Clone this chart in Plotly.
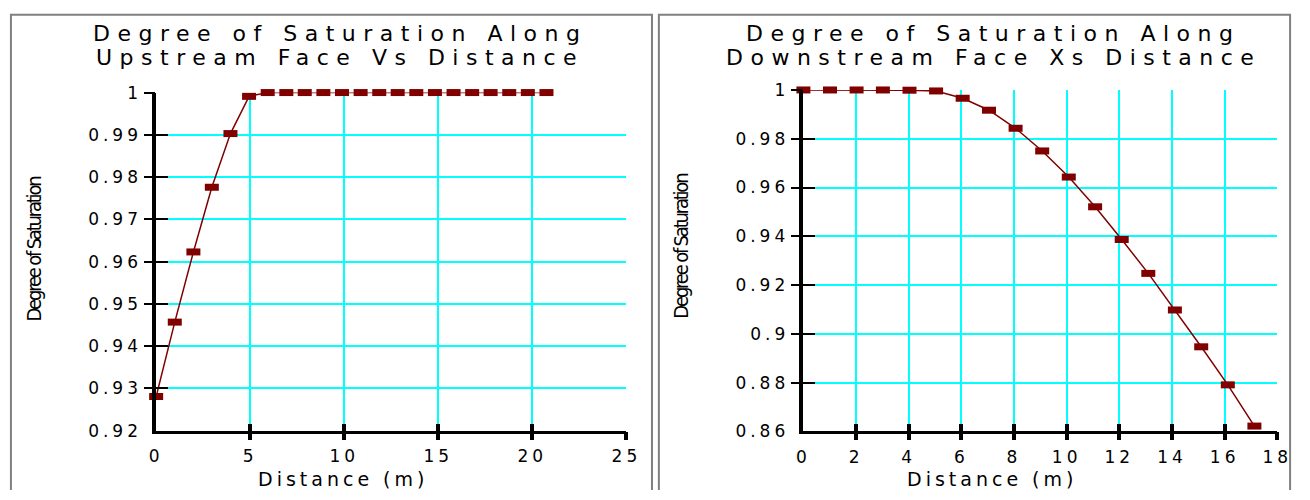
import plotly.graph_objects as go

# ---------------- data ----------------
up_distance = [0, 0.99, 1.98, 2.96, 3.95, 4.94, 5.93, 6.92, 7.9, 8.89, 9.88,
               10.87, 11.86, 12.84, 13.83, 14.82, 15.81, 16.8, 17.78, 18.77,
               19.76, 20.75]
up_saturation = [0.9281, 0.9457, 0.9623, 0.9776, 0.9903, 0.9991, 1.0, 1.0,
                 1.0, 1.0, 1.0, 1.0, 1.0, 1.0, 1.0, 1.0, 1.0, 1.0, 1.0, 1.0,
                 1.0, 1.0]

down_distance = [0, 1.01, 2.02, 3.02, 4.03, 5.04, 6.05, 7.05, 8.06, 9.07,
                 10.08, 11.08, 12.09, 13.1, 14.11, 15.11, 16.12, 17.13]
down_saturation = [1.0, 1.0, 1.0, 1.0, 0.9999, 0.9996, 0.9966, 0.9917, 0.9843,
                   0.9750, 0.9643, 0.9521, 0.9387, 0.9248, 0.9098, 0.8947,
                   0.8791, 0.8622]

up_x_ticks = [0, 5, 10, 15, 20, 25]
up_y_ticks = [0.92, 0.93, 0.94, 0.95, 0.96, 0.97, 0.98, 0.99, 1.0]
up_y_labels = ["0.92", "0.93", "0.94", "0.95", "0.96", "0.97", "0.98", "0.99", "1"]
down_x_ticks = [0, 2, 4, 6, 8, 10, 12, 14, 16, 18]
down_y_ticks = [0.86, 0.88, 0.90, 0.92, 0.94, 0.96, 0.98, 1.0]
down_y_labels = ["0.86", "0.88", "0.9", "0.92", "0.94", "0.96", "0.98", "1"]

title_up = ["Degree of Saturation Along", "Upstream Face Vs Distance"]
title_down = ["Degree of Saturation Along", "Downstream Face Xs Distance"]
x_title = "Distance (m)"
y_title = "Degree of Saturation"

# ---------------- style ----------------
W, H = 1310, 500
FONT = "DejaVu Sans"
COND = "DejaVu Sans Condensed, Liberation Sans"
MAROON = "#800000"
CYAN = "#00FFFF"


def sp(text, ls):
    return '<span style="letter-spacing:%spx">%s</span>' % (ls, text)


def px_x(v):
    return v / W


def px_y(v):
    return (H - v) / H


tick_font = dict(family=FONT, size=17, color="black")

fig = go.Figure()

marker = dict(symbol="line-ew", size=10, color=MAROON,
              line=dict(width=7, color=MAROON))

fig.add_trace(go.Scatter(x=up_distance, y=up_saturation, mode="lines+markers",
                         line=dict(color=MAROON, width=1.5), marker=marker,
                         cliponaxis=False, xaxis="x", yaxis="y",
                         showlegend=False))
fig.add_trace(go.Scatter(x=down_distance, y=down_saturation, mode="lines+markers",
                         line=dict(color=MAROON, width=1.5), marker=marker,
                         cliponaxis=False, xaxis="x2", yaxis="y2",
                         showlegend=False))

# empty helper traces so that the tick-mark overlay axes get drawn
for xa, ya in [("x3", "y3"), ("x4", "y4"), ("x5", "y5"), ("x6", "y6")]:
    fig.add_trace(go.Scatter(x=[], y=[], mode="markers", xaxis=xa, yaxis=ya,
                             showlegend=False, hoverinfo="skip"))

left_dom_x = [px_x(151.7), px_x(630)]
left_dom_y = [px_y(438.3), px_y(86)]
right_dom_x = [px_x(810), px_x(1292)]
right_dom_y = [px_y(439), px_y(83.3)]


def main_x(domain, rng, vals, anchor):
    return dict(domain=domain, range=rng, anchor=anchor,
                tickmode="array", tickvals=vals,
                ticktext=[sp(str(v), 4) for v in vals],
                ticks="outside", ticklen=8, tickcolor="rgba(0,0,0,0)",
                tickfont=tick_font,
                showline=True, linecolor="black", linewidth=3,
                showgrid=True, gridcolor=CYAN, gridwidth=1.5,
                zeroline=False)


def main_y(domain, rng, vals, labels, anchor):
    return dict(domain=domain, range=rng, anchor=anchor,
                tickmode="array", tickvals=vals,
                ticktext=[sp(t, 4) for t in labels],
                ticks="outside", ticklen=7, tickcolor="rgba(0,0,0,0)",
                tickfont=tick_font,
                showline=True, linecolor="black", linewidth=3.5,
                showgrid=True, gridcolor=CYAN, gridwidth=1.5,
                zeroline=False)


def tick_axis(over, rng, vals, anchor, kind, length, width):
    return dict(overlaying=over, range=rng, anchor=anchor,
                tickmode="array", tickvals=vals, ticks=kind, ticklen=length,
                tickwidth=width, tickcolor="black", showticklabels=False,
                showgrid=False, showline=False, zeroline=False)


fig.update_layout(
    width=W, height=H,
    margin=dict(l=0, r=0, t=0, b=0),
    paper_bgcolor="white", plot_bgcolor="white",
    showlegend=False,
    xaxis=main_x(left_dom_x, [0, 25], up_x_ticks, "y"),
    yaxis=main_y(left_dom_y, [0.92, 1.0], up_y_ticks, up_y_labels, "x"),
    xaxis2=main_x(right_dom_x, [0, 18], down_x_ticks, "y2"),
    yaxis2=main_y(right_dom_y, [0.86, 1.0], down_y_ticks, down_y_labels, "x2"),
    # crossing tick marks (inside + outside parts)
    xaxis3=tick_axis("x", [0, 25], up_x_ticks[1:], "y3", "inside", 7, 3.5),
    yaxis3=tick_axis("y", [0.92, 1.0], up_y_ticks[1:], "x3", "inside", 12, 2),
    xaxis4=tick_axis("x", [0, 25], up_x_ticks[1:], "y4", "outside", 8, 3.5),
    yaxis4=tick_axis("y", [0.92, 1.0], up_y_ticks[1:], "x4", "outside", 11, 2),
    xaxis5=tick_axis("x2", [0, 18], down_x_ticks[1:], "y5", "inside", 7, 3.5),
    yaxis5=tick_axis("y2", [0.86, 1.0], down_y_ticks[1:], "x5", "inside", 12, 2),
    xaxis6=tick_axis("x2", [0, 18], down_x_ticks[1:], "y6", "outside", 8, 3.5),
    yaxis6=tick_axis("y2", [0.86, 1.0], down_y_ticks[1:], "x6", "outside", 11, 2),
)

# panel frames (left, top and right sides)
for x0, x1 in [(4, 656), (663, 1305)]:
    fig.add_shape(type="path", xref="paper", yref="paper",
                  path="M %f,0 L %f,%f L %f,%f L %f,0" % (
                      px_x(x0), px_x(x0), px_y(5), px_x(x1), px_y(5), px_x(x1)),
                  line=dict(color="#808080", width=2), layer="below")

# titles
title_font = dict(family=FONT, size=22, color="black")
for cx, lines in [(335, title_up), (999, title_down)]:
    for cy, line in zip([24, 50], lines):
        fig.add_annotation(text=sp(line, 7.5), xref="paper", yref="paper",
                           x=px_x(cx + 4), y=px_y(cy), xanchor="center",
                           yanchor="middle", showarrow=False, font=title_font)

# axis titles
xt_font = dict(family=FONT, size=19, color="black")
for cx in [342, 1002]:
    fig.add_annotation(text=sp(x_title, 4), xref="paper", yref="paper",
                       x=px_x(cx), y=px_y(489), xanchor="center",
                       yanchor="middle", showarrow=False, font=xt_font)

yt_font = dict(family=COND, size=20, color="black")
for cx, cy in [(27, 249), (686, 246)]:
    fig.add_annotation(text=sp(y_title, -2.2), xref="paper", yref="paper",
                       x=px_x(cx), y=px_y(cy), xanchor="center",
                       yanchor="middle", textangle=-90, showarrow=False,
                       font=yt_font)

fig.write_html("out.html", config={"displayModeBar": False},
               post_script="document.body.style.margin='0px';"
                           "document.body.style.overflow='hidden';")
